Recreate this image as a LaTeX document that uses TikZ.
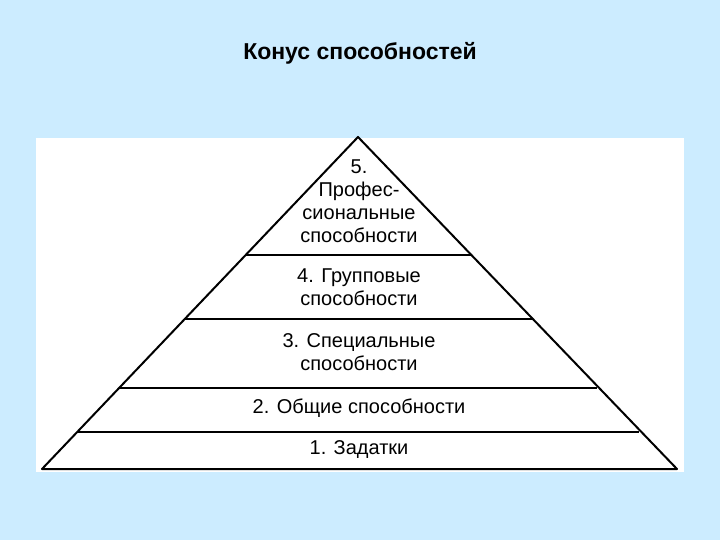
\documentclass[tikz,border=0pt]{standalone}
\usepackage{fontspec}
\setmainfont{Liberation Sans}
\definecolor{slideblue}{HTML}{CCECFF}
\tikzset{
  level/.style={align=center, inner sep=0pt, font=\fontsize{20}{23}\selectfont},
  edge/.style={line width=2pt, line join=round}
}
\begin{document}
\begin{tikzpicture}[x=1pt,y=-1pt]
\fill[slideblue](0,0)rectangle(720,540);
\fill[white](36,138)rectangle(684,472);
\node[font=\bfseries\fontsize{23}{28}\selectfont] (title) at (360,53) {Конус способностей};

% cone
\coordinate (top) at (358,137);
\coordinate (bl) at (42,469);
\coordinate (br) at (677,469);
\draw[edge](bl)--(top)--(br)--cycle;
\foreach \y in {255,319,388,432}
{
    \draw[edge](358-.9535*\y+.9535*137,\y)--(358+.9535*\y-.9535*137,\y);
}

\node[level] (l5) at (359,201) {5.\\Профес-\\сиональные\\способности};
\node[level] (l4) at (359,287) {4. Групповые\\способности};
\node[level] (l3) at (359,352) {3. Специальные\\способности};
\node[level] (l2) at (359,408) {2. Общие способности};
\node[level] (l1) at (359,450) {1. Задатки};
\end{tikzpicture}
\end{document}
